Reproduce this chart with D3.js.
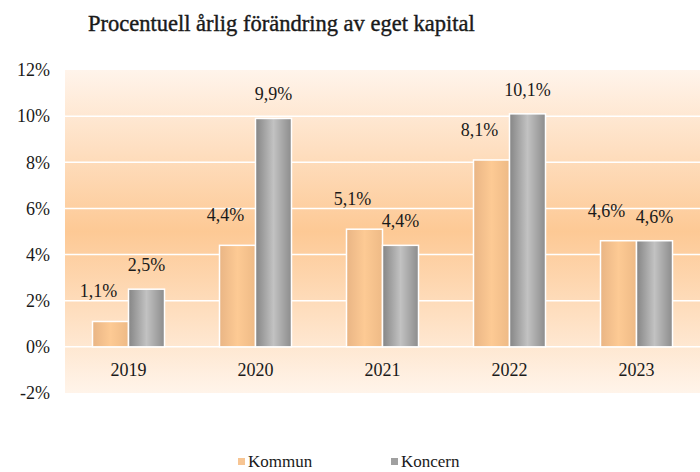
<!DOCTYPE html>
<html>
<head>
<meta charset="UTF-8">
<script src="https://d3js.org/d3.v7.min.js"></script>
<style>
    body { margin: 0; background: #fff; }
    svg { display: block; }
</style>
</head>
<body>
<svg id="chart" width="700" height="472"></svg>
<script>
// data
const years = ['2019', '2020', '2021', '2022', '2023']
const kommun = [1.1, 4.4, 5.1, 8.1, 4.6]
const koncern = [2.5, 9.9, 4.4, 10.1, 4.6]
const series = ['Kommun', 'Koncern']
const yTicks = [-2, 0, 2, 4, 6, 8, 10, 12]

const FONT = '"Liberation Serif", "DejaVu Serif", serif'
const svg = d3.select('#chart')
const margin = { top: 70, right: 0, bottom: 79, left: 65 }
const width = 700, height = 472
const fmt = v => String(v.toFixed(1)).replace('.', ',') + '%'

const x = d3.scaleBand().domain(years).range([margin.left, width - margin.right])
const x1 = d3.scaleBand().domain(series).range([0, 72])
const y = d3.scaleLinear().domain([-2, 12]).range([height - margin.bottom, margin.top])

const defs = svg.append('defs')

// background gradient (light - peach - light)
const bg = defs.append('linearGradient').attr('id', 'bg')
    .attr('x1', 0).attr('y1', 0).attr('x2', 0).attr('y2', 1)
bg.append('stop').attr('offset', '0%').attr('stop-color', '#fff4eb')
bg.append('stop').attr('offset', '50%').attr('stop-color', '#fdc995')
bg.append('stop').attr('offset', '100%').attr('stop-color', '#fff4ea')

function barGrad(id, edgeL, mid, edgeR) {
    const g = defs.append('linearGradient').attr('id', id)
        .attr('x1', 0).attr('y1', 0).attr('x2', 1).attr('y2', 0)
    g.append('stop').attr('offset', '0%').attr('stop-color', edgeL)
    g.append('stop').attr('offset', '50%').attr('stop-color', mid)
    g.append('stop').attr('offset', '100%').attr('stop-color', edgeR)
}
barGrad('gKommun', '#e9b585', '#fdca94', '#eeba86')
barGrad('gKoncern', '#858585', '#c2c2c2', '#8c8c8c')

// plot background
svg.append('rect')
    .attr('x', margin.left).attr('y', margin.top)
    .attr('width', width - margin.left - margin.right)
    .attr('height', height - margin.top - margin.bottom)
    .attr('fill', 'url(#bg)')

// grid lines
svg.append('g').selectAll('line')
    .data(yTicks.filter(t => t > -2 && t < 12))
    .join('line')
    .attr('x1', margin.left).attr('x2', width)
    .attr('y1', d => y(d)).attr('y2', d => y(d))
    .attr('stroke', '#ffffff').attr('stroke-width', 1.5)

// y axis labels
const yAxis = d3.axisLeft(y).tickValues(yTicks).tickSize(0).tickPadding(0)
    .tickFormat(d => d + '%')
const ya = svg.append('g').attr('transform', `translate(50,0)`).call(yAxis)
ya.select('.domain').remove()
ya.selectAll('text').style('font-family', FONT).style('font-size', '18px').style('fill', '#1a1a1a')

// x axis labels
const xAxis = d3.axisBottom(x).tickSize(0).tickPadding(0)
const xa = svg.append('g').attr('transform', `translate(0,${y(0) + 16})`).call(xAxis)
xa.select('.domain').remove()
xa.selectAll('text').style('font-family', FONT).style('font-size', '18px').style('fill', '#1a1a1a')

// bars
const rows = years.map((yr, i) => ({ year: yr, vals: [
    { s: 'Kommun', v: kommun[i] }, { s: 'Koncern', v: koncern[i] }] }))

const groups = svg.append('g').selectAll('g')
    .data(rows).join('g')
    .attr('transform', d => `translate(${x(d.year) + (x.bandwidth() - 72) / 2},0)`)

groups.selectAll('rect')
    .data(d => d.vals).join('rect')
    .attr('x', d => x1(d.s))
    .attr('width', x1.bandwidth())
    .attr('y', d => y(Math.max(0, d.v)))
    .attr('height', d => Math.abs(y(d.v) - y(0)))
    .attr('fill', d => d.s === 'Kommun' ? 'url(#gKommun)' : 'url(#gKoncern)')
    .attr('stroke', '#ffffff').attr('stroke-width', 1.5)

groups.selectAll('text.val')
    .data(d => d.vals).join('text')
    .attr('class', 'val')
    .attr('x', d => x1(d.s) + x1.bandwidth() / 2 + (d.s === 'Kommun' ? -12 : 0))
    .attr('y', d => y(d.v) - (d.s === 'Kommun' ? 24 : 18))
    .attr('text-anchor', 'middle')
    .style('font-family', FONT).style('font-size', '18px').style('fill', '#1a1a1a')
    .text(d => fmt(d.v))

// title
svg.append('text')
    .attr('x', 88).attr('y', 31)
    .style('font-family', FONT).style('font-size', '22.5px')
    .style('fill', '#1a1a1a').style('stroke', '#1a1a1a').style('stroke-width', 0.4)
    .text('Procentuell årlig förändring av eget kapital')

// legend
const legend = svg.append('g').selectAll('g')
    .data(series).join('g')
    .attr('transform', (d, i) => `translate(${i === 0 ? 238 : 391},0)`)
legend.append('rect')
    .attr('x', 0).attr('y', 458).attr('width', 7).attr('height', 7)
    .attr('fill', d => d === 'Kommun' ? '#f7c593' : '#a0a0a0')
legend.append('text')
    .attr('x', 10).attr('y', 467)
    .style('font-family', FONT).style('font-size', '17px').style('fill', '#1a1a1a')
    .text(d => d)
</script>
</body>
</html>
